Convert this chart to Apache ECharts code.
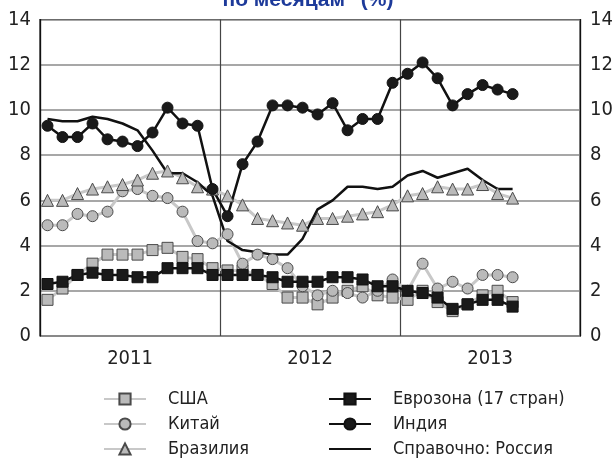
<!DOCTYPE html>
<html><head><meta charset="utf-8">
<script src="https://cdn.jsdelivr.net/npm/echarts@6/dist/echarts.min.js"></script>
<style>html,body{margin:0;padding:0;background:#fff}#c{width:616px;height:467px}</style>
</head><body><div id="c"></div>
<script>
var years = ['2011','2012','2013'];
var monthsPerYear = 12;
var usa =      [1.6,2.1,2.7,3.2,3.6,3.6,3.6,3.8,3.9,3.5,3.4,3.0, 2.9,2.9,2.7,2.3,1.7,1.7,1.4,1.7,2.0,2.2,1.8,1.7, 1.6,2.0,1.5,1.1,1.4,1.8,2.0,1.5];
var china =    [4.9,4.9,5.4,5.3,5.5,6.4,6.5,6.2,6.1,5.5,4.2,4.1, 4.5,3.2,3.6,3.4,3.0,2.2,1.8,2.0,1.9,1.7,2.0,2.5, 2.0,3.2,2.1,2.4,2.1,2.7,2.7,2.6];
var brazil =   [6.0,6.0,6.3,6.5,6.6,6.7,6.9,7.2,7.3,7.0,6.6,6.5, 6.2,5.8,5.2,5.1,5.0,4.9,5.2,5.2,5.3,5.4,5.5,5.8, 6.2,6.3,6.6,6.5,6.5,6.7,6.3,6.1];
var eurozone = [2.3,2.4,2.7,2.8,2.7,2.7,2.6,2.6,3.0,3.0,3.0,2.7, 2.7,2.7,2.7,2.6,2.4,2.4,2.4,2.6,2.6,2.5,2.2,2.2, 2.0,1.9,1.7,1.2,1.4,1.6,1.6,1.3];
var india =    [9.3,8.8,8.8,9.4,8.7,8.6,8.4,9.0,10.1,9.4,9.3,6.5, 5.3,7.6,8.6,10.2,10.2,10.1,9.8,10.3,9.1,9.6,9.6,11.2, 11.6,12.1,11.4,10.2,10.7,11.1,10.9,10.7];
var russia =   [9.6,9.5,9.5,9.7,9.6,9.4,9.1,8.2,7.2,7.2,6.8,6.2, 4.2,3.8,3.7,3.6,3.6,4.3,5.6,6.0,6.6,6.6,6.5,6.6, 7.1,7.3,7.0,7.2,7.4,6.9,6.5,6.5];
var names = ['США','Китай','Бразилия','Еврозона (17 стран)','Индия','Справочно: Россия'];
var titleText = 'по месяцам" (%)';

var months = [];
years.forEach(function(y){ for (var m=1;m<=monthsPerYear;m++){ months.push(y+'-'+(m<10?'0':'')+m); } });

var FONT = "'DejaVu Sans'";
var STRETCH = 'condensed';
var chart = echarts.init(document.getElementById('c'), null, {renderer:'canvas'});

function graySeries(name, data, symbol, size){
  return {name:name, type:'line', data:data, xAxisIndex:0, yAxisIndex:0,
    symbol:symbol, symbolSize:size, showSymbol:true, showAllSymbol:true,
    lineStyle:{color:'#c8c8c8', width:3},
    itemStyle:{color:'#bababa', borderColor:'#4a4a4a', borderWidth:1},
    emphasis:{disabled:true}, animation:false};
}
function blackSeries(name, data, symbol, size){
  return {name:name, type:'line', data:data, xAxisIndex:0, yAxisIndex:0,
    symbol:symbol, symbolSize:size, showSymbol:symbol!=='none', showAllSymbol:true,
    lineStyle:{color:'#111', width:2.5},
    itemStyle:{color:'#1a1a1a', borderColor:'#111', borderWidth:1},
    emphasis:{disabled:true}, animation:false};
}

var legendText = {fontFamily:FONT, fontStyle:STRETCH, fontSize:18, lineHeight:16, color:'#222', padding:[0,0,0,17]};
var col2 = [
  {name:names[3]},
  {name:names[4]},
  {name:names[5], icon:'path://M0,0 L42,0 L42,2 L0,2 Z', itemStyle:{color:'#111', borderWidth:0}}
];
chart.setOption({
  animation:false,
  title:{text:titleText, left:'center', top:-15,
    textStyle:{color:'#1d3a9a', fontSize:21, fontWeight:'bold', fontFamily:'Liberation Sans, Arial, sans-serif'}},
  grid:{left:40, right:30, top:19.5, bottom:131, show:true, borderColor:'#111', borderWidth:1.2, backgroundColor:'transparent'},
  legend:[
    {data:names.slice(0,3), orient:'vertical', left:103, top:390, padding:0, itemWidth:42, itemHeight:14, itemGap:7,
      textStyle:legendText, selectedMode:false},
    {data:col2, orient:'vertical', left:328, top:390, padding:0, itemWidth:42, itemHeight:14, itemGap:7,
      textStyle:legendText, selectedMode:false}
  ],
  xAxis:[
    {type:'category', data:months, boundaryGap:true, show:true,
      axisLine:{show:false}, axisTick:{show:false}, axisLabel:{show:false}, splitLine:{show:false}},
    {type:'category', data:years, boundaryGap:true, position:'bottom',
      axisLine:{show:false}, axisTick:{show:false},
      axisLabel:{fontFamily:FONT, fontStyle:STRETCH, fontSize:20, color:'#222', margin:13},
      splitLine:{show:true, lineStyle:{color:'#444', width:1.2}}}
  ],
  yAxis:[
    {type:'value', min:0, max:14, interval:2, position:'left',
      axisLine:{show:true, lineStyle:{color:'#111', width:1.2}}, axisTick:{show:false},
      axisLabel:{fontFamily:FONT, fontStyle:STRETCH, fontSize:20, color:'#222', margin:9},
      splitLine:{show:true, lineStyle:{color:'#8a8a8a', width:1.5}}},
    {type:'value', min:0, max:14, interval:2, position:'right',
      axisLine:{show:true, lineStyle:{color:'#111', width:1.2}}, axisTick:{show:false},
      axisLabel:{fontFamily:FONT, fontStyle:STRETCH, fontSize:20, color:'#222', margin:10},
      splitLine:{show:false}}
  ],
  series:[
    graySeries(names[0], usa, 'rect', 11),
    graySeries(names[1], china, 'circle', 11),
    graySeries(names[2], brazil, 'triangle', 12),
    blackSeries(names[3], eurozone, 'rect', 11),
    blackSeries(names[4], india, 'circle', 11),
    blackSeries(names[5], russia, 'none', 0)
  ]
});
</script></body></html>
